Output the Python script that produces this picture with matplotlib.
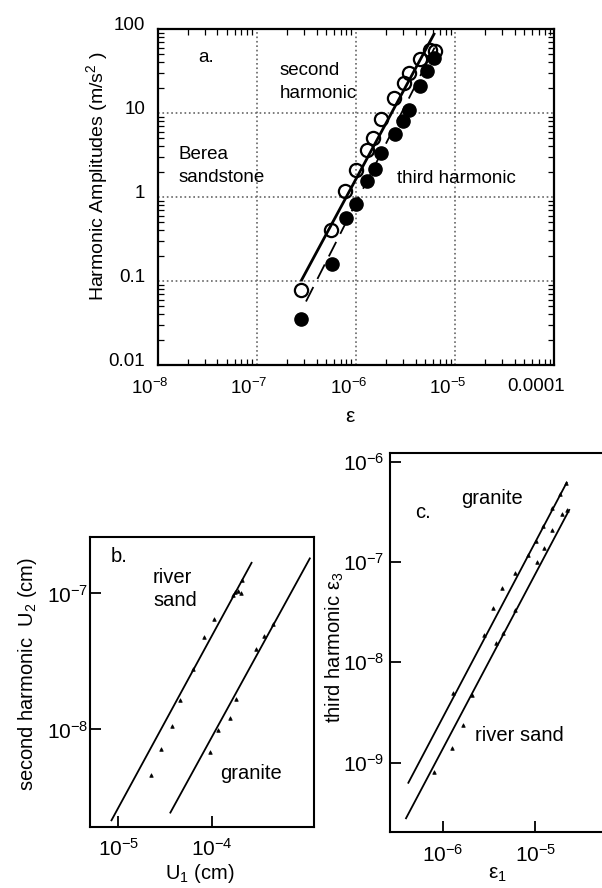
import matplotlib
matplotlib.use("Agg")
import matplotlib.pyplot as plt
import matplotlib.transforms as mtransforms
from matplotlib.ticker import FixedLocator, LogLocator, NullFormatter, NullLocator

plt.rcParams['font.family'] = ['Liberation Sans', 'DejaVu Sans']
plt.rcParams['mathtext.default'] = 'regular'

# ---------------- data ----------------
# (a) Berea sandstone: harmonic amplitudes vs strain
a_eps_second = [2.77e-7, 5.6e-7, 7.7e-7, 9.9e-7, 1.29e-6, 1.5e-6, 1.8e-6,
                2.4e-6, 3.05e-6, 3.45e-6, 4.45e-6, 5.6e-6, 6.2e-6]
a_amp_second = [0.078, 0.40, 1.18, 2.1, 3.6, 5.0, 8.6,
                15.0, 23.0, 29.7, 44.0, 56.0, 55.0]
a_eps_third = [2.77e-7, 5.7e-7, 8.0e-7, 1.0e-6, 1.3e-6, 1.56e-6, 1.8e-6,
               2.47e-6, 3.0e-6, 3.45e-6, 4.4e-6, 5.25e-6, 6.1e-6]
a_amp_third = [0.0353, 0.158, 0.56, 0.82, 1.57, 2.15, 3.3,
               5.6, 8.1, 11.0, 21.0, 32.0, 45.0]
a_fit_second_x = [2.83e-7, 6.12e-6]
a_fit_second_y = [0.103, 87.0]
a_fit_third_x = [3.13e-7, 6.2e-6]
a_fit_third_y = [0.057, 60.0]
a_xticks = [1e-8, 1e-7, 1e-6, 1e-5, 1e-4]
a_xticklabels = ['10$^{-8}$', '10$^{-7}$', '10$^{-6}$', '10$^{-5}$', '0.0001']
a_yticks = [0.01, 0.1, 1, 10, 100]
a_yticklabels = ['0.01', '0.1', '1', '10', '100']

# (b) second harmonic displacement vs fundamental displacement
b_u1_sand = [2.22e-5, 2.88e-5, 3.74e-5, 4.61e-5, 6.22e-5, 8.26e-5, 1.05e-4,
             1.66e-4, 1.78e-4, 1.90e-4, 2.04e-4, 2.08e-4]
b_u2_sand = [4.61e-9, 7.13e-9, 1.06e-8, 1.66e-8, 2.77e-8, 4.77e-8, 6.53e-8,
             9.67e-8, 1.02e-7, 1.05e-7, 1.01e-7, 1.25e-7]
b_u1_granite = [9.57e-5, 1.16e-4, 1.55e-4, 1.82e-4, 2.97e-4, 3.61e-4, 4.48e-4]
b_u2_granite = [6.89e-9, 9.84e-9, 1.22e-8, 1.67e-8, 3.93e-8, 4.88e-8, 5.97e-8]
b_fit_sand_x = [8.46e-6, 2.65e-4]
b_fit_sand_y = [2.15e-9, 1.68e-7]
b_fit_granite_x = [3.6e-5, 1.11e-3]
b_fit_granite_y = [2.45e-9, 1.81e-7]
b_xticks = [1e-5, 1e-4]
b_xticklabels = ['10$^{-5}$', '10$^{-4}$']
b_yticks = [1e-8, 1e-7]
b_yticklabels = ['10$^{-8}$', '10$^{-7}$']

# (c) third harmonic strain vs fundamental strain
c_e1_granite = [1.28e-6, 2.81e-6, 3.52e-6, 4.42e-6, 6.03e-6, 8.26e-6,
                1.01e-5, 1.22e-5, 1.50e-5, 1.84e-5, 2.12e-5]
c_e3_granite = [4.91e-9, 1.87e-8, 3.45e-8, 5.44e-8, 7.85e-8, 1.17e-7,
                1.63e-7, 2.29e-7, 3.43e-7, 4.73e-7, 6.09e-7]
c_e1_sand = [8.05e-7, 1.25e-6, 1.66e-6, 2.08e-6, 3.76e-6, 4.53e-6, 5.97e-6,
             1.03e-5, 1.25e-5, 1.52e-5, 1.92e-5, 2.18e-5]
c_e3_sand = [8.11e-10, 1.39e-9, 2.36e-9, 4.75e-9, 1.55e-8, 1.96e-8, 3.32e-8,
             1.01e-7, 1.39e-7, 2.08e-7, 3.01e-7, 3.30e-7]
c_fit_granite_x = [4.26e-7, 2.18e-5]
c_fit_granite_y = [6.3e-10, 6.18e-7]
c_fit_sand_x = [4.02e-7, 2.32e-5]
c_fit_sand_y = [2.79e-10, 3.30e-7]
c_xticks = [1e-6, 1e-5]
c_xticklabels = ['10$^{-6}$', '10$^{-5}$']
c_yticks = [1e-9, 1e-8, 1e-7, 1e-6]
c_yticklabels = ['10$^{-9}$', '10$^{-8}$', '10$^{-7}$', '10$^{-6}$']

# ---------------- layout ----------------
W, H = 602, 888
fig = plt.figure(figsize=(W / 100, H / 100), dpi=100)


def box(l, t, r, b):
    return [l / W, 1 - b / H, (r - l) / W, (b - t) / H]


def ftext(x, y, s, **kw):
    kw.setdefault('ha', 'left')
    kw.setdefault('va', 'center')
    return fig.text(x / W, 1 - y / H, s, **kw)


def shift(labels, dx, dy):
    off = mtransforms.ScaledTranslation(dx / 100, dy / 100, fig.dpi_scale_trans)
    for lab in labels:
        lab.set_transform(lab.get_transform() + off)


# ---------------- panel a ----------------
ax = fig.add_axes(box(157.7, 29, 554.3, 365))
ax.set_xscale('log')
ax.set_yscale('log')
ax.set_xlim(1e-8, 1e-4)
ax.set_ylim(0.01, 100)
for s in ax.spines.values():
    s.set_linewidth(1.6)
ax.grid(True, which='major', color='0.4', linestyle=':', linewidth=1.2)
ax.xaxis.set_major_locator(FixedLocator(a_xticks))
ax.yaxis.set_major_locator(FixedLocator(a_yticks))
ax.xaxis.set_minor_locator(LogLocator(base=10, subs=range(2, 10), numticks=20))
ax.yaxis.set_minor_locator(LogLocator(base=10, subs=range(2, 10), numticks=20))
ax.xaxis.set_minor_formatter(NullFormatter())
ax.yaxis.set_minor_formatter(NullFormatter())
ax.set_xticklabels(a_xticklabels)
ax.set_yticklabels(a_yticklabels)
ax.tick_params(which='both', direction='in', top=True, right=True, labelsize=13.5)
ax.tick_params(which='major', length=0, width=1)
ax.tick_params(which='minor', length=4, width=0.9)
ax.tick_params(axis='x', pad=9)
ax.tick_params(axis='y', pad=9)
for lab in ax.get_xticklabels():
    lab.set_ha('right')
shift(ax.get_xticklabels(), 11, 0)
shift(ax.get_yticklabels(), 0, 6)

ax.plot(a_fit_second_x, a_fit_second_y, color='black', lw=2.0, zorder=2)
ax.plot(a_fit_third_x, a_fit_third_y, color='black', lw=1.3, dashes=(9, 5), zorder=2)
ax.plot(a_eps_second, a_amp_second, 'o', ms=9.5, mfc='none', mec='black', mew=1.6, zorder=3)
ax.plot(a_eps_third, a_amp_third, 'o', ms=9.5, mfc='black', mec='black', mew=1.0, zorder=3)

ftext(198, 57, 'a.', fontsize=13.5)
ftext(280, 82, 'second\nharmonic', fontsize=13.5, linespacing=1.45)
ftext(179, 166, 'Berea\nsandstone', fontsize=13.5, linespacing=1.4)
ftext(397, 178, 'third harmonic', fontsize=13.5)
ftext(97, 176, 'Harmonic Amplitudes (m/s$^{2}$ )', fontsize=14, rotation=90, ha='center')
ftext(350, 417, 'ε', fontsize=15, ha='center')

# ---------------- panel b ----------------
bx = fig.add_axes(box(90, 537, 314, 827))
bx.set_xscale('log')
bx.set_yscale('log')
bx.set_xlim(4.99e-6, 1.23e-3)
bx.set_ylim(1.92e-9, 2.6e-7)
for s in bx.spines.values():
    s.set_linewidth(1.5)
bx.xaxis.set_major_locator(FixedLocator(b_xticks))
bx.yaxis.set_major_locator(FixedLocator(b_yticks))
bx.xaxis.set_minor_locator(NullLocator())
bx.yaxis.set_minor_locator(NullLocator())
bx.set_xticklabels(b_xticklabels)
bx.set_yticklabels(b_yticklabels)
bx.tick_params(which='major', direction='in', length=8, width=1.3, labelsize=15)
bx.tick_params(axis='x', pad=8)
bx.tick_params(axis='y', pad=1)

bx.plot(b_fit_sand_x, b_fit_sand_y, color='black', lw=1.3)
bx.plot(b_fit_granite_x, b_fit_granite_y, color='black', lw=1.3)
bx.plot(b_u1_sand, b_u2_sand, '^', ms=2.6, color='black', mew=0.5)
bx.plot(b_u1_granite, b_u2_granite, '^', ms=2.6, color='black', mew=0.5)

ftext(111, 557, 'b.', fontsize=14.5)
ftext(153, 589, 'river\nsand', fontsize=14.5, linespacing=1.25)
ftext(220, 773, 'granite', fontsize=14.5)
ftext(28, 674, 'second harmonic  U$_{2}$ (cm)', fontsize=14.5, rotation=90, ha='center')
ftext(200, 873, 'U$_{1}$ (cm)', fontsize=14.5, ha='center')

# ---------------- panel c ----------------
cx = fig.add_axes(box(390, 453.3, 628, 831.7))
cx.set_xscale('log')
cx.set_yscale('log')
cx.set_xlim(2.7e-7, 1e-4)
cx.set_ylim(2.05e-10, 1.21e-6)
for s in cx.spines.values():
    s.set_linewidth(1.5)
cx.xaxis.set_major_locator(FixedLocator(c_xticks))
cx.yaxis.set_major_locator(FixedLocator(c_yticks))
cx.xaxis.set_minor_locator(NullLocator())
cx.yaxis.set_minor_locator(NullLocator())
cx.set_xticklabels(c_xticklabels)
cx.set_yticklabels(c_yticklabels)
cx.tick_params(which='major', direction='in', length=8, width=1.3, labelsize=15)
cx.tick_params(axis='x', pad=9)
cx.tick_params(axis='y', pad=4)

cx.plot(c_fit_granite_x, c_fit_granite_y, color='black', lw=1.3)
cx.plot(c_fit_sand_x, c_fit_sand_y, color='black', lw=1.3)
cx.plot(c_e1_granite, c_e3_granite, '^', ms=2.6, color='black', mew=0.5)
cx.plot(c_e1_sand, c_e3_sand, '^', ms=2.6, color='black', mew=0.5)

ftext(415, 512, 'c.', fontsize=14.5)
ftext(461, 498, 'granite', fontsize=14.5)
ftext(475, 735, 'river sand', fontsize=14.5)
ftext(335, 647, 'third harmonic ε$_{3}$', fontsize=14.5, rotation=90, ha='center')
ftext(497, 874, 'ε$_{1}$', fontsize=15, ha='center')

fig.savefig('out.png', dpi=100)
